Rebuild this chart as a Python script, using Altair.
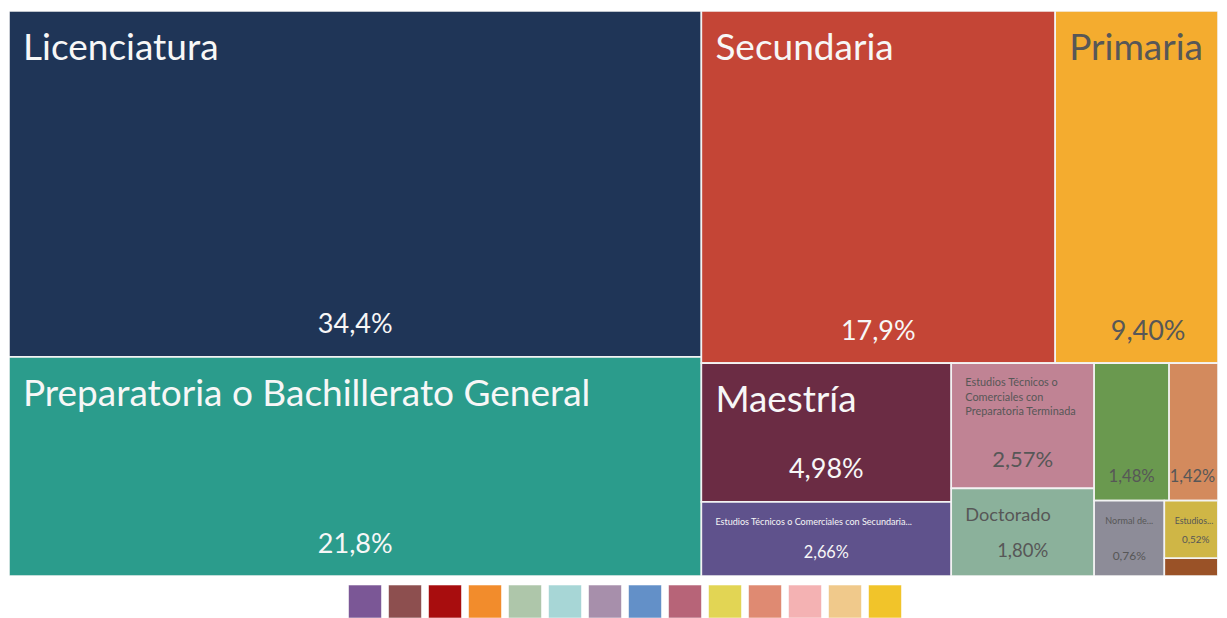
import math
import altair as alt

# ---------------- data ----------------
categories = [
    "Licenciatura",
    "Preparatoria o Bachillerato General",
    "Secundaria",
    "Primaria",
    "Maestría",
    "Estudios Técnicos o Comerciales con Secundaria Terminada",
    "Estudios Técnicos o Comerciales con Preparatoria Terminada",
    "Doctorado",
    "Bachillerato Tecnológico",
    "Ninguno",
    "Normal de Licenciatura",
    "Estudios Técnicos o Comerciales con Primaria Terminada",
    "Normal con Primaria o Secundaria Terminada",
    "Especialidad",
]
shares = [34.4, 21.8, 17.9, 9.40, 4.98, 2.66, 2.57, 1.80, 1.48, 1.42, 0.76, 0.52, 0.16, 0.15]
tile_colors = [
    "#1f3557", "#2b9c8c", "#c44536", "#f4ac2f", "#6b2c44", "#5f528c", "#c08394",
    "#8bb19b", "#6a994f", "#d38a5d", "#8d8c98", "#cfb646", "#9a5227", "#5b7fa6",
]
legend_colors = [
    "#7b5796", "#8d4f4f", "#a80d0e", "#f28c2c", "#aec6aa", "#a7d6d6", "#a78fab",
    "#6390c8", "#b76478", "#e2d554", "#df8a72", "#f4b2b3", "#f0c98b", "#f1c42a",
]

# ---------------- layout (d3 squarify) ----------------
TOTAL_W = 1232.0   # full treemap width (right part runs past the page edge)
VIS_W = 1209       # visible plot width (keeps the page from overflowing)
H = 565            # plot height
PHI = (1 + 5 ** 0.5) / 2


def squarify(values, x0, y0, x1, y1, ratio=PHI):
    rects = [None] * len(values)
    n = len(values)
    i0 = i1 = 0
    value = float(sum(values))
    while i0 < n:
        dx, dy = x1 - x0, y1 - y0
        sum_v = values[i1]
        i1 += 1
        min_v = max_v = sum_v
        alpha = max(dy / dx, dx / dy) / (value * ratio)
        beta = sum_v * sum_v * alpha
        min_ratio = max(max_v / beta, beta / min_v)
        while i1 < n:
            nv = values[i1]
            s = sum_v + nv
            mn, mx = min(min_v, nv), max(max_v, nv)
            beta = s * s * alpha
            new_ratio = max(mx / beta, beta / mn)
            if new_ratio > min_ratio:
                break
            sum_v, min_v, max_v, min_ratio = s, mn, mx, new_ratio
            i1 += 1
        row = range(i0, i1)
        if dx < dy:
            ny = y0 + dy * sum_v / value
            k = (x1 - x0) / sum_v
            cx = x0
            for i in row:
                rects[i] = (cx, y0, cx + values[i] * k, ny)
                cx += values[i] * k
            y0 = ny
        else:
            nx = x0 + dx * sum_v / value
            k = (y1 - y0) / sum_v
            cy = y0
            for i in row:
                rects[i] = (x0, cy, nx, cy + values[i] * k)
                cy += values[i] * k
            x0 = nx
        value -= sum_v
        i0 = i1
    return rects


def brightness(hexcol):
    r, g, b = (int(hexcol[i:i + 2], 16) for i in (1, 3, 5))
    return 0.299 * r + 0.587 * g + 0.114 * b


CHAR = 0.46  # approx. average glyph width (em) of the font


def tw(s, size):
    return len(s) * CHAR * size


def pct_w(s, size):
    return sum(0.25 if ch == "," else 0.85 if ch == "%" else 0.59 for ch in s) * size


def fmt_pct(v):
    s = f"{v:.1f}" if v >= 10 else f"{v:.2f}"
    return s.replace(".", ",") + "%"


rects = squarify(shares, 0.0, 0.0, TOTAL_W, float(H))
records = []
for cat, v, col, (x0, y0, x1, y1) in zip(categories, shares, tile_colors, rects):
    w, h = x1 - x0, y1 - y0
    tc = "#f7f7f7" if brightness(col) < 125 else "#575757"
    rec = dict(cat=cat, x0=x0, x1=x1, y0=y0, y1=y1, tc=tc, kind="none",
               name=[""], nfs=10.0, nx=x0, ny=y0, pct="", pfs=10.0, px=(x0 + x1) / 2, py=y1, showp=False)
    # name label
    if not (w < 30 or h < 30 or (h > 1.5 * w and w < 100)):
        big = min(37.0, 0.365 * h - 13.8, (w - 30) / (len(cat) * 0.47))
        if big >= 16:
            rec.update(kind="big", name=[cat], nfs=big, nx=x0 + 14, ny=y0 + 16 + 0.9 * big)
        else:
            words = cat.split(" ")
            if h > 110:
                small = min(11.0, 0.087 * h)
                avail = w - 24
                lines, cur = [], ""
                for wd in words:
                    t = (cur + " " + wd).strip()
                    if cur and tw(t, small) > avail:
                        lines.append(cur)
                        cur = wd
                    else:
                        cur = t
                lines.append(cur)
            else:
                small = max(8.5, min(11.0, 7.5 + 0.021 * h))
                avail = w - 16
                cur = ""
                for wd in words:
                    t = (cur + " " + wd).strip()
                    if tw(t + "...", small) > avail:
                        break
                    cur = t
                lines = [cur + "..."] if cur != cat else [cat]
            if w >= 80:
                kind, nx = "smallL", x0 + 14
            else:
                half = max(tw(s, small) for s in lines) / 2
                kind, nx = "smallC", min((x0 + x1) / 2, VIS_W - half - 2)
            rec.update(kind=kind, name=lines, nfs=small, nx=nx, ny=y0 + 23)
    # percentage label
    if w >= 40 and h >= 40:
        pfs = min(27.0, 0.165 * math.sqrt(w * h), 0.22 * h, 0.27 * w)
        label = fmt_pct(v)
        px = min((x0 + x1) / 2, VIS_W - pct_w(label, pfs) / 2 - 2)
        rec.update(pct=label, pfs=pfs, px=px, py=y1 - (10 + 0.5 * pfs), showp=True)
    records.append(rec)

FONT = "Lato"

src = alt.Data(values=records)
xs = alt.Scale(domain=[0, VIS_W], nice=False, zero=False, clamp=True)
ys = alt.Scale(domain=[0, H], nice=False, zero=False, reverse=True)

base = alt.Chart(src)

tiles = base.mark_rect(stroke="#f3f3f3", strokeWidth=1.6, clip=True).encode(
    x=alt.X("x0:Q", scale=xs, axis=None),
    x2="x1:Q",
    y=alt.Y("y0:Q", scale=ys, axis=None),
    y2="y1:Q",
    color=alt.Color("cat:N", scale=alt.Scale(domain=categories, range=tile_colors), legend=None),
)


def name_layer(kind, align, line_height):
    return base.transform_filter(alt.datum.kind == kind).mark_text(
        align=align, baseline="alphabetic", font=FONT, lineHeight=line_height, clip=True
    ).encode(
        x=alt.X("nx:Q", scale=xs, axis=None),
        y=alt.Y("ny:Q", scale=ys, axis=None),
        text="name:N",
        size=alt.Size("nfs:Q", scale=None, legend=None),
        color=alt.Color("tc:N", scale=None, legend=None),
    )


big_names = name_layer("big", "left", 44)
small_left = name_layer("smallL", "left", 14.5)
small_center = name_layer("smallC", "center", 12)

pct = base.transform_filter(alt.datum.showp).mark_text(
    align="center", baseline="alphabetic", font=FONT, clip=True
).encode(
    x=alt.X("px:Q", scale=xs, axis=None),
    y=alt.Y("py:Q", scale=ys, axis=None),
    text="pct:N",
    size=alt.Size("pfs:Q", scale=None, legend=None),
    color=alt.Color("tc:N", scale=None, legend=None),
)

treemap = alt.layer(tiles, big_names, small_left, small_center, pct).properties(width=VIS_W, height=H)

# ---------------- colour key row ----------------
n = len(categories)
STEP, BAND = 40.0, 33.0
p_inner = (STEP - BAND) / STEP
group = STEP * (n - p_inner)
start = (TOTAL_W - group) / 2

key = alt.Chart(alt.Data(values=[{"cat": c} for c in categories])).mark_rect(
    stroke="#ffffff", strokeOpacity=0.55, strokeWidth=1
).encode(
    x=alt.X("cat:N", sort=categories, axis=None,
            scale=alt.Scale(paddingInner=p_inner, paddingOuter=0, range=[start, start + group])),
    color=alt.Color("cat:N", scale=alt.Scale(domain=categories, range=legend_colors), legend=None),
).properties(width=VIS_W, height=33)

chart = alt.vconcat(treemap, key, spacing=8).resolve_scale(
    color="independent", x="independent"
).properties(
    padding={"left": 1, "top": 3, "right": 0, "bottom": 0},
    background="white",
).configure_view(strokeWidth=0)

chart.save("out.html", embed_options={"renderer": "svg", "actions": False})
